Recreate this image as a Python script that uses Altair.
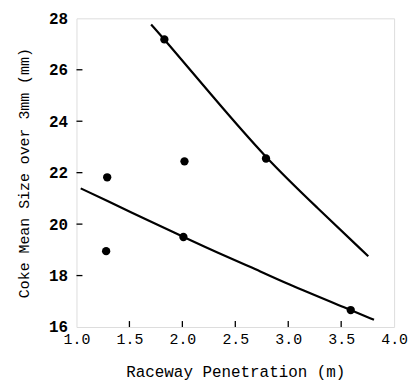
import altair as alt
import pandas as pd

# Measured points
pt_x = [1.83, 2.79, 1.29, 2.02, 1.28, 2.01, 3.59]
pt_y = [27.18, 22.55, 21.82, 22.44, 18.95, 19.50, 16.66]

# Upper fitted curve
up_x = [1.705, 1.83, 2.28, 2.79, 3.27, 3.756]
up_y = [27.76, 27.18, 24.99, 22.55, 20.65, 18.75]

# Lower fitted curve
lo_x = [1.04, 1.25, 1.72, 2.01, 2.34, 2.65, 2.96, 3.59, 3.81]
lo_y = [21.39, 20.98, 20.06, 19.50, 18.88, 18.33, 17.73, 16.66, 16.28]

x_ticks = [1.0, 1.5, 2.0, 2.5, 3.0, 3.5, 4.0]
y_ticks = [16, 18, 20, 22, 24, 26, 28]
x_inner = [1.5, 2.0, 2.5, 3.0, 3.5]
y_inner = [18, 20, 22, 24, 26]

W, H = 320, 311
FONT = "Liberation Mono"

pts = pd.DataFrame({"x": pt_x, "y": pt_y})
curves = pd.DataFrame({
    "x": up_x + lo_x,
    "y": up_y + lo_y,
    "c": ["upper"] * len(up_x) + ["lower"] * len(lo_x),
})

xs = alt.Scale(domain=[1.0, 4.0], nice=False, zero=False)
ys = alt.Scale(domain=[16, 28], nice=False, zero=False)

xaxis = alt.Axis(values=x_ticks, format=".1f", tickSize=0, domain=False, grid=False,
                 labelFont=FONT, labelFontSize=15, labelColor="black", labelPadding=5,
                 title="Raceway Penetration (m)", titleFont=FONT, titleFontSize=16,
                 titleFontWeight="normal", titleColor="black", titlePadding=17,
                 labelFlush=False)
yaxis = alt.Axis(values=y_ticks, format="d", tickSize=0, domain=False, grid=False,
                 labelFont=FONT, labelFontSize=16, labelFontWeight="bold",
                 labelColor="black", labelPadding=9,
                 title="Coke Mean Size over 3mm (mm)", titleFont=FONT, titleFontSize=15,
                 titleFontWeight="normal", titleColor="black", titlePadding=17,
                 labelFlush=False)

base_x = alt.X("x:Q", scale=xs, axis=xaxis)
base_y = alt.Y("y:Q", scale=ys, axis=yaxis)

lines = alt.Chart(curves).mark_line(color="black", strokeWidth=2.2, interpolate="basis").encode(
    x=base_x, y=base_y, detail="c:N")

dots = alt.Chart(pts).mark_circle(color="black", opacity=1, size=70).encode(
    x=alt.X("x:Q", scale=xs), y=alt.Y("y:Q", scale=ys))

xt = alt.Chart(pd.DataFrame({"x": x_inner})).mark_rule(color="black", strokeWidth=1.3).encode(
    x=alt.X("x:Q", scale=xs), y=alt.value(H), y2=alt.value(H - 6))
yt = alt.Chart(pd.DataFrame({"y": y_inner})).mark_rule(color="black", strokeWidth=1.3).encode(
    y=alt.Y("y:Q", scale=ys), x=alt.value(0), x2=alt.value(6))

chart = alt.layer(lines, dots, xt, yt).properties(
    width=W, height=H,
    autosize=alt.AutoSizeParams(type="none"),
    padding={"left": 69, "top": 9, "right": 15, "bottom": 55},
).configure_view(stroke="black", strokeWidth=1.6).configure(background="white")

chart.save("out.html", embed_options={"renderer": "svg", "actions": False})
